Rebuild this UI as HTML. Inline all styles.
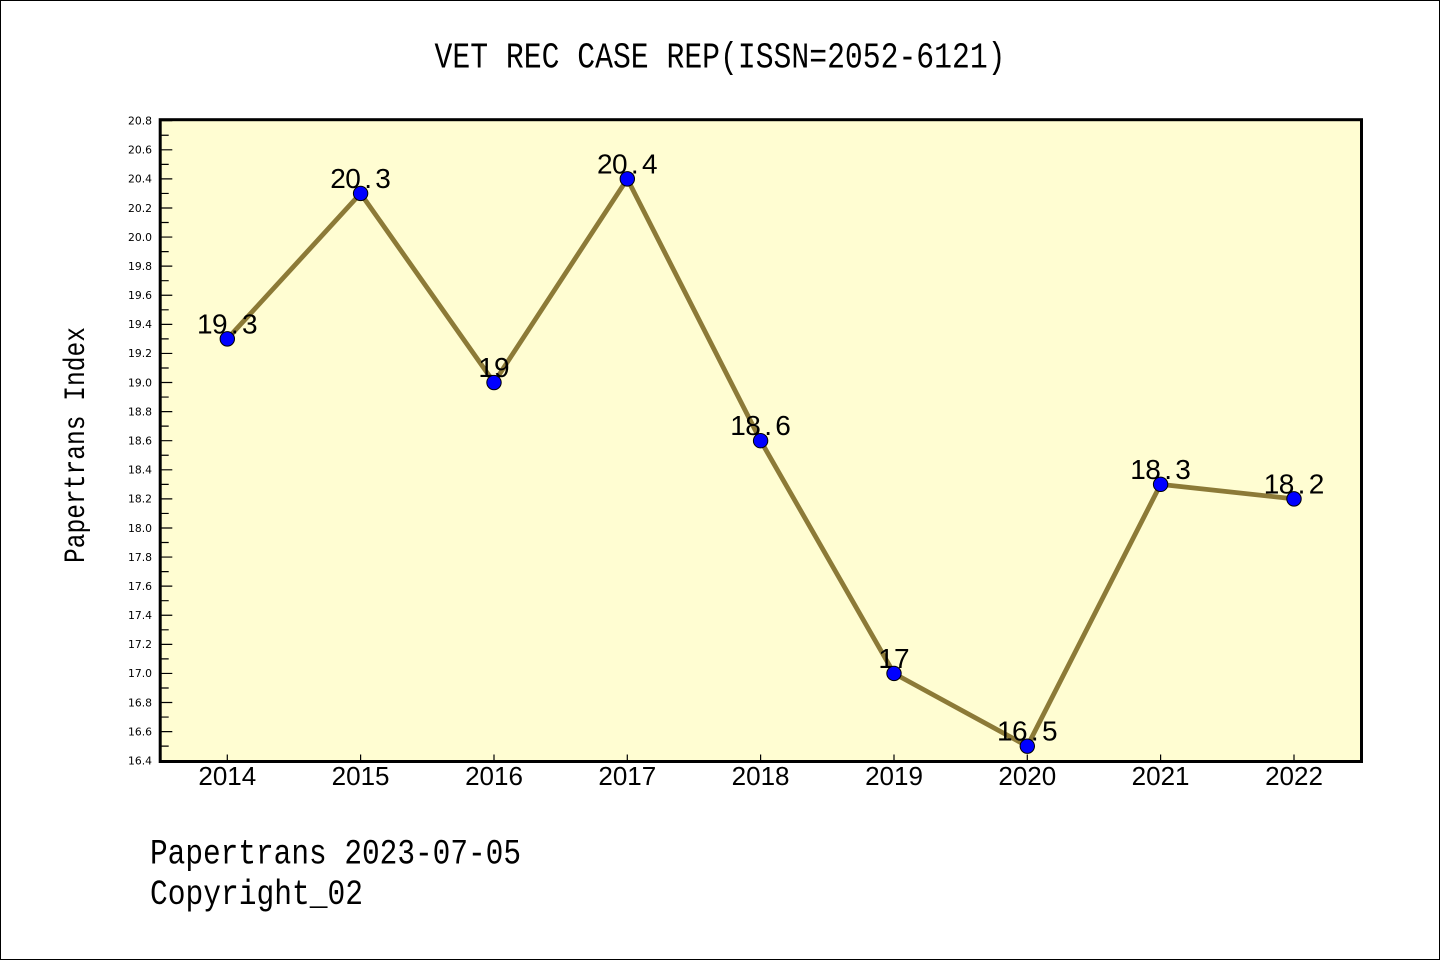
<!DOCTYPE html>
<html>
<head>
<meta charset="utf-8">
<style>
html,body{margin:0;padding:0;background:#fff;}
svg{display:block;}
</style>
</head>
<body>
<svg width="1440" height="960" viewBox="0 0 1440 960" xmlns="http://www.w3.org/2000/svg">
  <rect x="0" y="0" width="1440" height="960" fill="#ffffff"/>
  <rect x="0.5" y="0.5" width="1439" height="959" fill="none" stroke="#000" stroke-width="1"/>

  <!-- title -->
  <text x="720" y="67.5" text-anchor="middle" font-family="'Liberation Mono', monospace" font-size="36" textLength="571" lengthAdjust="spacingAndGlyphs" fill="#000">VET REC CASE REP(ISSN=2052-6121)</text>

  <!-- plot background -->
  <rect x="160.2" y="119.7" width="1201.3" height="641.8" fill="#fffdd2"/>

  <!-- y ticks -->
  <path stroke="#000" stroke-width="1.2" fill="none" d="
    M161 760.70H172.3 M161 746.15H168.7 M161 731.61H172.3 M161 717.06H168.7
    M161 702.52H172.3 M161 687.97H168.7 M161 673.43H172.3 M161 658.88H168.7
    M161 644.34H172.3 M161 629.79H168.7 M161 615.25H172.3 M161 600.70H168.7
    M161 586.15H172.3 M161 571.61H168.7 M161 557.06H172.3 M161 542.52H168.7
    M161 527.97H172.3 M161 513.43H168.7 M161 498.88H172.3 M161 484.34H168.7
    M161 469.79H172.3 M161 455.25H168.7 M161 440.70H172.3 M161 426.15H168.7
    M161 411.61H172.3 M161 397.06H168.7 M161 382.52H172.3 M161 367.97H168.7
    M161 353.43H172.3 M161 338.88H168.7 M161 324.34H172.3 M161 309.79H168.7
    M161 295.25H172.3 M161 280.70H168.7 M161 266.15H172.3 M161 251.61H168.7
    M161 237.06H172.3 M161 222.52H168.7 M161 207.97H172.3 M161 193.43H168.7
    M161 178.88H172.3 M161 164.34H168.7 M161 149.79H172.3 M161 135.25H168.7
    M161 120.70H172.3"/>

  <!-- x ticks -->
  <path stroke="#000" stroke-width="1.2" fill="none" d="
    M227.3 760V754.5 M360.6 760V754.5 M494.0 760V754.5 M627.3 760V754.5
    M760.6 760V754.5 M894.0 760V754.5 M1027.3 760V754.5 M1160.6 760V754.5 M1294.0 760V754.5"/>

  <!-- frame -->
  <rect x="160.2" y="119.7" width="1201.3" height="641.8" fill="none" stroke="#000" stroke-width="3"/>

  <!-- y tick labels -->
  <g font-family="'DejaVu Sans', sans-serif" font-size="10.8" text-anchor="end" fill="#000">
    <text x="152" y="764.5">16.4</text>
    <text x="152" y="735.4">16.6</text>
    <text x="152" y="706.3">16.8</text>
    <text x="152" y="677.2">17.0</text>
    <text x="152" y="648.1">17.2</text>
    <text x="152" y="619.0">17.4</text>
    <text x="152" y="590.0">17.6</text>
    <text x="152" y="560.9">17.8</text>
    <text x="152" y="531.8">18.0</text>
    <text x="152" y="502.7">18.2</text>
    <text x="152" y="473.6">18.4</text>
    <text x="152" y="444.5">18.6</text>
    <text x="152" y="415.4">18.8</text>
    <text x="152" y="386.3">19.0</text>
    <text x="152" y="357.2">19.2</text>
    <text x="152" y="328.1">19.4</text>
    <text x="152" y="299.0">19.6</text>
    <text x="152" y="270.0">19.8</text>
    <text x="152" y="240.9">20.0</text>
    <text x="152" y="211.8">20.2</text>
    <text x="152" y="182.7">20.4</text>
    <text x="152" y="153.6">20.6</text>
    <text x="152" y="124.5">20.8</text>
  </g>

  <!-- x tick labels -->
  <g font-family="'Liberation Sans', sans-serif" font-size="26" text-anchor="middle" fill="#000">
    <text x="227.3" y="785">2014</text>
    <text x="360.6" y="785">2015</text>
    <text x="494.0" y="785">2016</text>
    <text x="627.3" y="785">2017</text>
    <text x="760.6" y="785">2018</text>
    <text x="894.0" y="785">2019</text>
    <text x="1027.3" y="785">2020</text>
    <text x="1160.6" y="785">2021</text>
    <text x="1294.0" y="785">2022</text>
  </g>

  <!-- y axis label -->
  <text transform="translate(84,445) rotate(-90)" x="0" y="0" text-anchor="middle" font-family="'Liberation Mono', monospace" font-size="30" textLength="236" lengthAdjust="spacingAndGlyphs" fill="#000">Papertrans Index</text>

  <!-- data line -->
  <polyline fill="none" stroke="#8c7a37" stroke-width="4.8" stroke-linejoin="round" stroke-linecap="round"
    points="227.3,338.88 360.6,193.43 494.0,382.52 627.3,178.88 760.6,440.70 894.0,673.43 1027.3,746.15 1160.6,484.34 1294.0,498.88"/>

  <!-- data labels -->
  <g font-family="'Liberation Sans', sans-serif" font-size="28" text-anchor="middle" fill="#000">
    <text x="204.8 219.8 234.8 249.8" y="333.4">19.3</text>
    <text x="338.1 353.1 368.1 383.1" y="187.9">20.3</text>
    <text x="494.0" y="377.0">19</text>
    <text x="604.8 619.8 634.8 649.8" y="173.4">20.4</text>
    <text x="738.1 753.1 768.1 783.1" y="435.2">18.6</text>
    <text x="894.0" y="667.9">17</text>
    <text x="1004.8 1019.8 1034.8 1049.8" y="740.6">16.5</text>
    <text x="1138.1 1153.1 1168.1 1183.1" y="478.8">18.3</text>
    <text x="1271.5 1286.5 1301.5 1316.5" y="493.4">18.2</text>
  </g>

  <!-- markers -->
  <g fill="#0000ff" stroke="#000" stroke-width="1">
    <circle cx="227.3" cy="338.88" r="7.2"/>
    <circle cx="360.6" cy="193.43" r="7.2"/>
    <circle cx="494.0" cy="382.52" r="7.2"/>
    <circle cx="627.3" cy="178.88" r="7.2"/>
    <circle cx="760.6" cy="440.70" r="7.2"/>
    <circle cx="894.0" cy="673.43" r="7.2"/>
    <circle cx="1027.3" cy="746.15" r="7.2"/>
    <circle cx="1160.6" cy="484.34" r="7.2"/>
    <circle cx="1294.0" cy="498.88" r="7.2"/>
  </g>

  <!-- footer -->
  <text x="150" y="863.5" font-family="'Liberation Mono', monospace" font-size="35" textLength="371" lengthAdjust="spacingAndGlyphs" fill="#000">Papertrans 2023-07-05</text>
  <text x="150" y="904" font-family="'Liberation Mono', monospace" font-size="35" textLength="213" lengthAdjust="spacingAndGlyphs" fill="#000">Copyright_02</text>
</svg>
</body>
</html>
